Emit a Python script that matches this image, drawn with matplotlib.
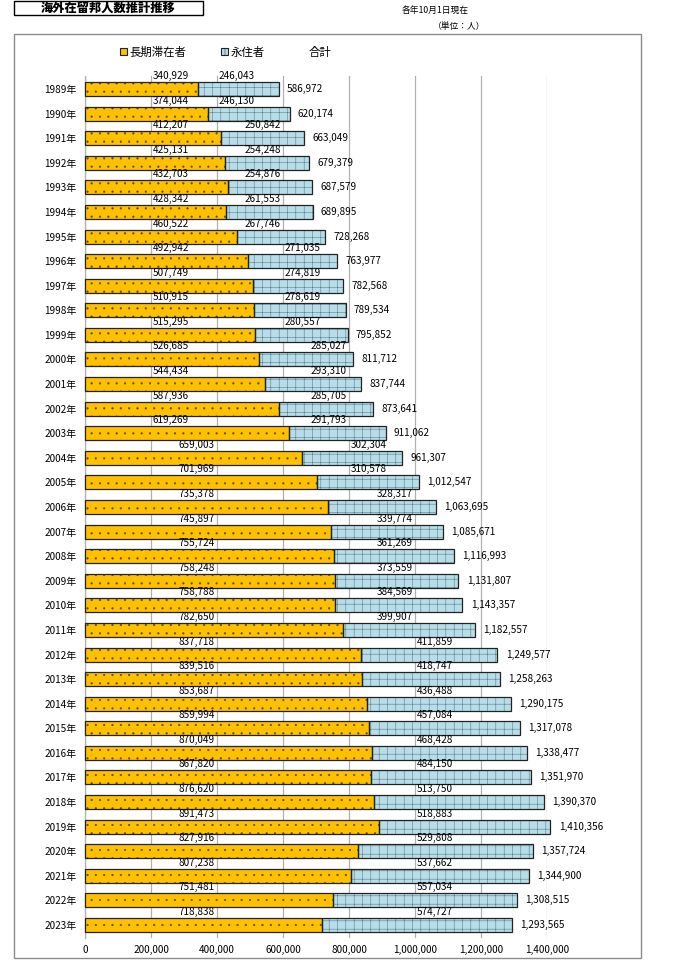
import matplotlib
matplotlib.use('Agg')
import matplotlib.pyplot as plt
import matplotlib.patches as mpatches
import numpy as np

plt.rcParams['font.family'] = ['Noto Sans CJK JP', 'DejaVu Sans']
plt.rcParams['hatch.linewidth'] = 0.35

# --- data (persons, as of Oct 1 each year) ---
years = list(range(1989, 2024))
long_term = [340929, 374044, 412207, 425131, 432703, 428342, 460522, 492942,
             507749, 510915, 515295, 526685, 544434, 587936, 619269, 659003,
             701969, 735378, 745897, 755724, 758248, 758788, 782650, 837718,
             839516, 853687, 859994, 870049, 867820, 876620, 891473, 827916,
             807238, 751481, 718838]
permanent = [246043, 246130, 250842, 254248, 254876, 261553, 267746, 271035,
             274819, 278619, 280557, 285027, 293310, 285705, 291793, 302304,
             310578, 328317, 339774, 361269, 373559, 384569, 399907, 411859,
             418747, 436488, 457084, 468428, 484150, 513750, 518883, 529808,
             537662, 557034, 574727]
series_names = ['長期滞在者', '永住者', '合計']
x_ticks = [0, 200000, 400000, 600000, 800000, 1000000, 1200000, 1400000]

long_term = np.array(long_term)
permanent = np.array(permanent)
totals = long_term + permanent
ylabels = [f'{y}年' for y in years]
pos = np.arange(len(years))


def orange_anchor(year):
    # where Excel left the data labels of the long-term series
    return (200000, 'left') if year <= 2003 else (400000, 'right')


def blue_anchor(year):
    if year <= 1990:
        return 400000, 'left'
    if year <= 1995:
        return 600000, 'right'
    if year <= 1999:
        return 600000, 'left'
    if year <= 2003:
        return 800000, 'right'
    if year <= 2005:
        return 800000, 'left'
    if year <= 2011:
        return 1000000, 'right'
    return 1000000, 'left'


W, H = 685, 963
fig = plt.figure(figsize=(W / 100, H / 100), dpi=100)
ax = fig.add_axes([85 / W, 1 - 938 / H, 462 / W, 862 / H])

orange = '#FFC000'
blue = '#B7DEE8'
dot_col = '#5a4a20'
grid_col = '#50707c'
bh = 0.57

# fill + hatch first, black outline drawn on top
ax.barh(pos, long_term, height=bh, color=orange, edgecolor=dot_col,
        hatch='..', linewidth=0, zorder=3, clip_on=False)
ax.barh(pos, long_term, height=bh, fill=False, edgecolor='#222222',
        linewidth=0.9, zorder=4, clip_on=False)
ax.barh(pos, permanent, left=long_term, height=bh, color=blue,
        edgecolor=grid_col, hatch='++', linewidth=0, zorder=3, clip_on=False)
ax.barh(pos, permanent, left=long_term, height=bh, fill=False,
        edgecolor='#222222', linewidth=0.9, zorder=4, clip_on=False)

h1 = mpatches.Patch(facecolor=orange, edgecolor='#222222', linewidth=0.8,
                    label=series_names[0])
h2 = mpatches.Patch(facecolor=blue, edgecolor='#222222', hatch='+',
                    linewidth=0.8, label=series_names[1])
h3 = mpatches.Patch(facecolor='none', edgecolor='none', label=series_names[2])

fs = 7.2
for i, yr in enumerate(years):
    xo, ha = orange_anchor(yr)
    ax.annotate(f'{long_term[i]:,}', xy=(xo, i - 0.53),
                xytext=(1 if ha == 'left' else -1.5, 0), textcoords='offset points',
                ha=ha, va='center', fontsize=fs, zorder=5)
    xb, ha = blue_anchor(yr)
    ax.annotate(f'{permanent[i]:,}', xy=(xb, i - 0.53),
                xytext=(1 if ha == 'left' else -1.5, 0), textcoords='offset points',
                ha=ha, va='center', fontsize=fs, zorder=5)
    ax.annotate(f'{totals[i]:,}', xy=(totals[i], i), xytext=(6, 0),
                textcoords='offset points', ha='left', va='center',
                fontsize=fs, annotation_clip=False)

ax.set_xlim(0, 1400000)
ax.set_ylim(len(years) - 0.47, -0.53)
ax.set_xticks(x_ticks)
ax.set_xticklabels([f'{v:,}' for v in x_ticks], fontsize=fs)
ax.set_yticks(pos)
ax.set_yticklabels(ylabels, fontsize=fs)
ax.tick_params(length=0, pad=6)
ax.tick_params(axis='x', pad=5)
ax.grid(axis='x', color='#b0b0b0', linewidth=0.9, zorder=0)
for side in ['top', 'right', 'bottom']:
    ax.spines[side].set_visible(False)
ax.spines['left'].set_color('#b0b0b0')
ax.spines['left'].set_linewidth(0.9)

fig.legend(handles=[h1, h2, h3], loc='center left',
           bbox_to_anchor=(120 / W, 1 - 52 / H), ncol=3, frameon=False,
           fontsize=8.2, handlelength=0.6, handleheight=0.6,
           handletextpad=0.25, columnspacing=3.0, borderpad=0,
           borderaxespad=0)

# outer chart frame
fig.patches.append(mpatches.Rectangle((14 / W, 1 - 958 / H), 627 / W, 924 / H,
                                      transform=fig.transFigure, fill=False,
                                      edgecolor='#8c8c8c', linewidth=1))
# title box
fig.patches.append(mpatches.Rectangle((14 / W, 1 - 15 / H), 189 / W, 14 / H,
                                      transform=fig.transFigure, fill=False,
                                      edgecolor='black', linewidth=1))
fig.text(108 / W, 1 - 8 / H, '海外在留邦人数推計推移', ha='center', va='center',
         fontsize=8.8, fontweight='heavy')
fig.text(435 / W, 1 - 10 / H, '各年10月1日現在', ha='center', va='center',
         fontsize=6.3)
fig.text(459 / W, 1 - 27 / H, '（単位：人）', ha='center', va='center',
         fontsize=6.3)

fig.savefig('out.png', dpi=100, facecolor='white')
